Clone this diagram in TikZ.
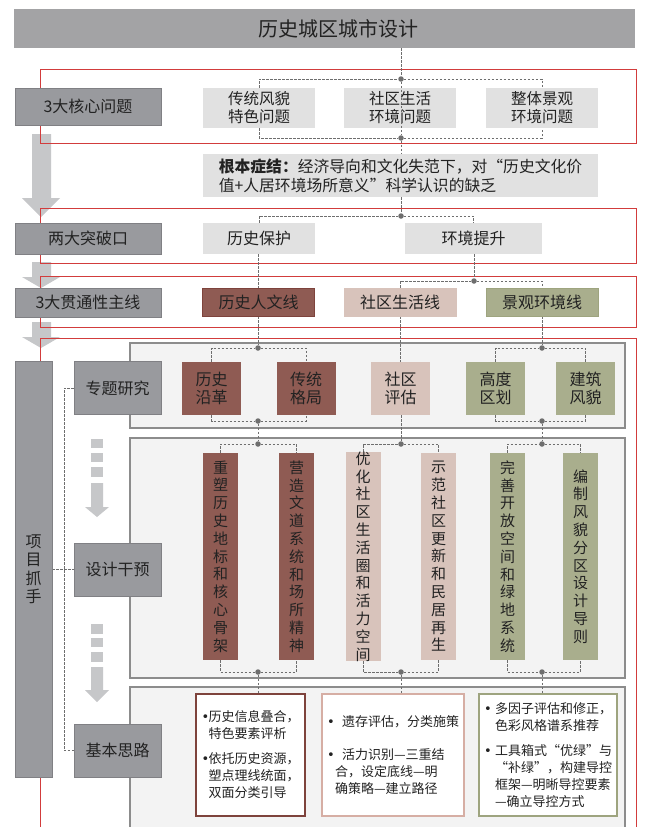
\documentclass[tikz,border=0pt]{standalone}
\usepackage{fontspec}
\setmainfont{Noto Sans CJK SC}
\newfontfamily\dotfont{DejaVu Sans}
\XeTeXlinebreaklocale "zh"
\XeTeXlinebreakskip=0pt plus 1pt

\definecolor{ink}{HTML}{222222}
\definecolor{barGray}{HTML}{A3A3A5}
\definecolor{tagGray}{HTML}{999A9E}
\definecolor{tagEdge}{HTML}{808084}
\definecolor{paleGray}{HTML}{E1E1E1}
\definecolor{panelFill}{HTML}{F3F3F3}
\definecolor{panelEdge}{HTML}{8C8C8C}
\definecolor{frameRed}{HTML}{D23C3C}
\definecolor{arrowGray}{HTML}{C6C7C9}
\definecolor{linkGray}{HTML}{6E6E6E}
\definecolor{brick}{HTML}{8F5B53}
\definecolor{brickEdge}{HTML}{7E433C}
\definecolor{blush}{HTML}{D8C3BB}
\definecolor{blushEdge}{HTML}{D6AEA4}
\definecolor{sage}{HTML}{A9AE8D}
\definecolor{sageEdge}{HTML}{9EA47F}

\pgfdeclarelayer{back}
\pgfdeclarelayer{links}
\pgfsetlayers{back,links,main}

\newcommand{\itemdot}[1]{\makebox[#1][l]{{\dotfont •}}}

\begin{document}
\begin{tikzpicture}[x=1pt,y=-1pt]

\tikzset{
  every node/.style={inner sep=0pt, text=ink},
  headbar/.style={fill=barGray, minimum width=621pt, minimum height=39pt},
  headtext/.style={font=\fontsize{20}{24}\selectfont},
  tagbox/.style={fill=tagGray, draw=tagEdge, line width=0.5pt, minimum width=146pt, font=\fontsize{16}{19}\selectfont},
  subbox/.style={tagbox, minimum width=87pt, minimum height=53pt},
  gripbox/.style={tagbox, minimum width=37pt, minimum height=416pt, text width=16pt, align=center, font=\fontsize{16}{18.5}\selectfont},
  issuebox/.style={fill=paleGray, minimum width=112pt, minimum height=40pt, align=center, font=\fontsize{15.5}{18}\selectfont},
  rootbox/.style={fill=paleGray, minimum width=395pt, minimum height=43pt, align=left, font=\fontsize{15.8}{19}\selectfont},
  waybox/.style={fill=paleGray, minimum height=31pt, font=\fontsize{16}{19}\selectfont},
  threadbox/.style={draw, line width=0.5pt, minimum width=112pt, minimum height=28pt, font=\fontsize{16}{19}\selectfont},
  topicbox/.style={minimum width=59pt, minimum height=53pt, align=center, font=\fontsize{16}{18}\selectfont},
  actbox/.style={minimum width=35pt, minimum height=207pt, text width=16pt, align=center, font=\fontsize{15}{17.8}\selectfont},
  ideabox/.style={fill=white, line width=1.2pt, minimum height=122pt, align=left, font=\fontsize{13}{17}\selectfont},
  redframe/.style={draw=frameRed, line width=1pt},
  panelbox/.style={fill=panelFill, draw=panelEdge, line width=1.2pt},
  dashlink/.style={draw=linkGray, line width=0.9pt, dash pattern=on 2.5pt off 1.5pt},
  hubdot/.style={circle, fill=linkGray, minimum size=5.5pt},
  bigarrow/.style={fill=arrowGray}
}

\useasboundingbox (0,0) rectangle (645,827);

\begin{pgfonlayer}{back}
\fill[white] (0,0) rectangle (645,827);
\fill[bigarrow] (32,134) -- (51,134) -- (51,198) -- (60,198) -- (41,217) -- (22,198) -- (32,198) -- cycle;
\fill[bigarrow] (32,262) -- (51,262) -- (51,277) -- (60,277) -- (41,288) -- (22,277) -- (32,277) -- cycle;
\fill[bigarrow] (32,322) -- (51,322) -- (51,337) -- (60,337) -- (41,348) -- (22,337) -- (32,337) -- cycle;
\draw[redframe] (40,69) rectangle (636,143);
\draw[redframe] (40,208) rectangle (636,263);
\draw[redframe] (40,276) rectangle (636,327);
\draw[redframe] (40,850) |- (636,338) -- (636,850);
\draw[panelbox] (130,343) rectangle (625,428);
\draw[panelbox] (130,438) rectangle (625,678);
\draw[panelbox] (130,687) rectangle (625,850);
\fill[bigarrow] (91,439) rectangle (103,448);
\fill[bigarrow] (91,453) rectangle (103,462);
\fill[bigarrow] (91,467) rectangle (103,477);
\fill[bigarrow] (91,483) -- (103,483) -- (103,507) -- (109,507) -- (97,517) -- (85,507) -- (91,507) -- cycle;
\fill[bigarrow] (91,624) rectangle (103,634);
\fill[bigarrow] (91,638) rectangle (103,647);
\fill[bigarrow] (91,652) rectangle (103,662);
\fill[bigarrow] (91,667) -- (103,667) -- (103,690) -- (109,690) -- (97,702) -- (85,690) -- (91,690) -- cycle;
\end{pgfonlayer}

\node[headbar] (title) at (324.5,28.5) {};
\node[headtext] (title_text) at (338,28.5) {历史城区城市设计};

\node[tagbox, minimum height=37pt] (tag_1) at (88,106.5) {3大核心问题};
\node[tagbox, minimum height=31pt] (tag_2) at (88,238.5) {两大突破口};
\node[tagbox, minimum height=29pt] (tag_3) at (88,302.5) {3大贯通性主线};
\node[gripbox] (grip) at (33.5,569) {项目抓手};
\node[subbox] (sub_1) at (117.5,388) {专题研究};
\node[subbox] (sub_2) at (117.5,569.5) {设计干预};
\node[subbox] (sub_3) at (117.5,750.5) {基本思路};

\node[issuebox] (issue_1) at (259,108) {传统风貌\\特色问题};
\node[issuebox] (issue_2) at (400,108) {社区生活\\环境问题};
\node[issuebox] (issue_3) at (542,108) {整体景观\\环境问题};
\node[rootbox] (root) at (400.5,175.5) {\textbf{根本症结：}经济导向和文化失范下，对“历史文化价\\值+人居环境场所意义”科学认识的缺乏};

\node[waybox, minimum width=112pt] (way_1) at (259,238.5) {历史保护};
\node[waybox, minimum width=137pt] (way_2) at (473.5,238.5) {环境提升};

\node[threadbox, fill=brick, draw=brickEdge] (line_1) at (258.5,302) {历史人文线};
\node[threadbox, fill=blush, draw=blush] (line_2) at (400,302) {社区生活线};
\node[threadbox, fill=sage, draw=sageEdge] (line_3) at (542,302) {景观环境线};

\node[topicbox, fill=brick] (topic_1) at (211.5,388.5) {历史\\沿革};
\node[topicbox, fill=brick] (topic_2) at (306,388.5) {传统\\格局};
\node[topicbox, fill=blush] (topic_3) at (400.5,388.5) {社区\\评估};
\node[topicbox, fill=sage] (topic_4) at (495.5,388.5) {高度\\区划};
\node[topicbox, fill=sage] (topic_5) at (585.5,388.5) {建筑\\风貌};

\node[actbox, fill=brick] (act_1) at (220.5,556.5) {重塑历史地标和核心骨架};
\node[actbox, fill=brick] (act_2) at (296.5,556.5) {营造文道系统和场所精神};
\node[actbox, fill=blush] (act_3) at (363,556.5) {优化社区生活圈和活力空间};
\node[actbox, fill=blush] (act_4) at (438.5,556.5) {示范社区更新和民居再生};
\node[actbox, fill=sage] (act_5) at (507.5,556.5) {完善开放空间和绿地系统};
\node[actbox, fill=sage] (act_6) at (580.5,556.5) {编制风貌分区设计导则\\[9pt]};

\node[ideabox, draw=brickEdge, minimum width=109pt] (idea_1) at (250.5,755) {\itemdot{7pt}历史信息叠合，\\\hspace*{7pt}特色要素评析\\[8pt]\itemdot{7pt}依托历史资源，\\\hspace*{7pt}塑点理线统面，\\\hspace*{7pt}双面分类引导};
\node[ideabox, draw=blushEdge, minimum width=142pt] (idea_2) at (393,755) {\itemdot{15pt}遗存评估，分类施策\\[16pt]\itemdot{15pt}活力识别—三重结\\\hspace*{8pt}合，设定底线—明\\\hspace*{8pt}确策略—建立路径};
\node[ideabox, draw=sageEdge, minimum width=138pt] (idea_3) at (548,755) {\itemdot{11pt}多因子评估和修正，\\\hspace*{11pt}色彩风格谱系推荐\\[8pt]\itemdot{11pt}工具箱式“优绿”与\\\hspace*{11pt}“补绿”，构建导控\\\hspace*{11pt}框架—明晰导控要素\\\hspace*{11pt}—确立导控方式};

\node[hubdot] (dot_1) at (401,79) {};
\node[hubdot] (dot_2) at (401,138) {};
\node[hubdot] (dot_3) at (401,216) {};
\node[hubdot] (dot_4) at (474,281) {};
\node[hubdot] (dot_5) at (258,348) {};
\node[hubdot] (dot_6) at (542,348) {};
\node[hubdot] (dot_7) at (258,421) {};
\node[hubdot] (dot_8) at (258,444) {};
\node[hubdot] (dot_9) at (401,444) {};
\node[hubdot] (dot_10) at (542,421) {};
\node[hubdot] (dot_11) at (542,444) {};
\node[hubdot] (dot_12) at (258,672) {};
\node[hubdot] (dot_13) at (401,672) {};
\node[hubdot] (dot_14) at (542,672) {};
\coordinate (rail) at (64,388);

\draw[dashlink] (title.south -| dot_1) -- (dot_1) -- (dot_2) -- (root.north -| dot_2);

\begin{pgfonlayer}{links}
\draw[dashlink] (issue_1) |- (dot_1) -| (issue_3);
\draw[dashlink] (issue_1) |- (dot_2) -| (issue_3);
\draw[dashlink] (root.south -| dot_3) -- (dot_3);
\draw[dashlink] (way_1) |- (dot_3) -| (way_2);
\draw[dashlink] (way_1.south -| line_1.north) -- (line_1.north);
\draw[dashlink] (way_2.south -| dot_4) -- (dot_4);
\draw[dashlink] (line_2) |- (dot_4) -| (line_3);
\draw[dashlink] (line_1.south -| dot_5) -- (dot_5);
\draw[dashlink] (topic_1) |- (dot_5) -| (topic_2);
\draw[dashlink] (line_2.south) -- (topic_3.north -| line_2.south);
\draw[dashlink] (line_3.south -| dot_6) -- (dot_6);
\draw[dashlink] (topic_4) |- (dot_6) -| (topic_5);
\draw[dashlink] (topic_1) |- (dot_7) -| (topic_2);
\draw[dashlink] (dot_7) -- (dot_8);
\draw[dashlink] (act_1) |- (dot_8) -| (act_2);
\draw[dashlink] (topic_3.south -| dot_9) -- (dot_9);
\draw[dashlink] (act_3) |- (dot_9) -| (act_4);
\draw[dashlink] (topic_4) |- (dot_10) -| (topic_5);
\draw[dashlink] (dot_10) -- (dot_11);
\draw[dashlink] (act_5) |- (dot_11) -| (act_6);
\draw[dashlink] (act_1) |- (dot_12) -| (act_2);
\draw[dashlink] (dot_12) -- (idea_1.north -| dot_12);
\draw[dashlink] (act_3) |- (dot_13) -| (act_4);
\draw[dashlink] (dot_13) -- (idea_2.north -| dot_13);
\draw[dashlink] (act_5) |- (dot_14) -| (act_6);
\draw[dashlink] (dot_14) -- (idea_3.north -| dot_14);
\draw[dashlink] (sub_1.west) -- (rail) |- (sub_3.west);
\draw[dashlink] (grip.east |- sub_2) -- (sub_2.west);
\end{pgfonlayer}

\end{tikzpicture}
\end{document}
